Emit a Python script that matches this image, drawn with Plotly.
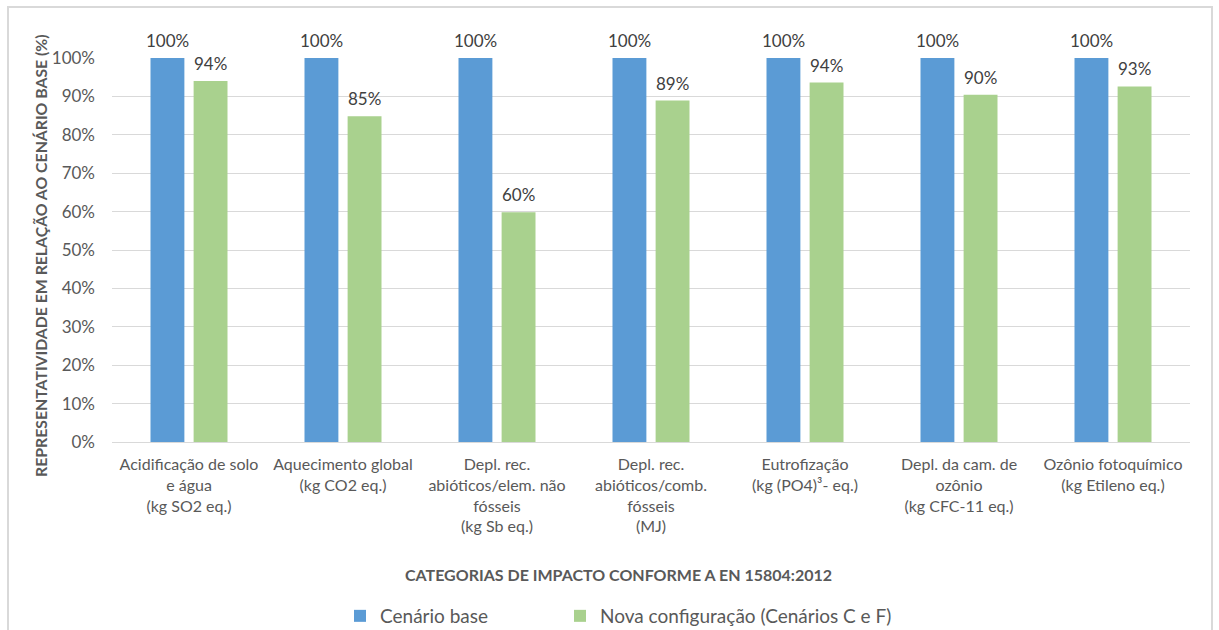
import plotly.graph_objects as go

categories = [
    "Acidificação de solo<br>e água<br>(kg SO2 eq.)",
    "Aquecimento global<br>(kg CO2 eq.)",
    "Depl. rec.<br>abióticos/elem. não<br>fósseis<br>(kg Sb eq.)",
    "Depl. rec.<br>abióticos/comb.<br>fósseis<br>(MJ)",
    "Eutrofização<br>(kg (PO4)³- eq.)",
    "Depl. da cam. de<br>ozônio<br>(kg CFC-11 eq.)",
    "Ozônio fotoquímico<br>(kg Etileno eq.)",
]
cenario_base = [1.00, 1.00, 1.00, 1.00, 1.00, 1.00, 1.00]
nova_configuracao = [0.940, 0.848, 0.598, 0.889, 0.936, 0.904, 0.926]

y_ticks = [i / 10 for i in range(11)]

FONT = "Lato"
TXT = "#595959"
LABEL = "#404040"

W, H = 1219, 630
ML, MR, MT, MB = 112, 29, 58, 188
pw = W - ML - MR
ph = H - MT - MB

BAR_W = 0.22
series = [
    ("Cenário base", cenario_base, "#5B9BD5", -0.25, "legend"),
    ("Nova configuração (Cenários C e F)", nova_configuracao, "#A9D18E", 0.03, "legend2"),
]

pos = list(range(len(categories)))

fig = go.Figure()
for name, vals, color, off, leg in series:
    fig.add_trace(go.Bar(
        name=name, x=pos, y=vals, width=BAR_W, offset=off,
        marker=dict(color=color, line=dict(width=0)),
        legend=leg,
    ))
    # value labels above each bar
    for p, v in zip(pos, vals):
        fig.add_annotation(x=p + off + BAR_W / 2, y=v, text=f"{v:.0%}",
                           xref="x", yref="y", showarrow=False,
                           xanchor="center", yanchor="bottom", yshift=5,
                           font=dict(family=FONT, size=17, color=LABEL))


def px_x(v):
    return (v - ML) / pw


def px_y(v):
    return (H - MB - v) / ph


# outer chart frame
fig.add_shape(type="rect", xref="paper", yref="paper",
              x0=px_x(8), x1=px_x(1212), y0=px_y(650), y1=px_y(7),
              line=dict(color="#D9D9D9", width=2), layer="below")

# axis titles
fig.add_annotation(text="<b>CATEGORIAS DE IMPACTO CONFORME A EN 15804:2012</b>",
                   xref="paper", yref="paper", x=px_x(618), y=px_y(574),
                   showarrow=False, xanchor="center", yanchor="middle",
                   font=dict(family=FONT, size=16, color=TXT))
fig.add_annotation(text="<b>REPRESENTATIVIDADE EM RELAÇÃO AO CENÁRIO BASE (%)</b>",
                   xref="paper", yref="paper", x=px_x(40), y=px_y(256),
                   textangle=-90, showarrow=False,
                   xanchor="center", yanchor="middle",
                   font=dict(family=FONT, size=15.8, color=TXT))

legend_style = dict(orientation="h", yanchor="middle", xanchor="left",
                    font=dict(family=FONT, size=19, color=TXT),
                    bgcolor="rgba(0,0,0,0)")

fig.update_layout(
    width=W, height=H,
    margin=dict(l=ML, r=MR, t=MT, b=MB, autoexpand=False),
    paper_bgcolor="white", plot_bgcolor="white",
    font=dict(family=FONT, size=16, color=TXT),
    barmode="overlay",
    legend=dict(x=px_x(340), y=px_y(616), **legend_style),
    legend2=dict(x=px_x(560), y=px_y(616), **legend_style),
    showlegend=True,
)
fig.update_xaxes(range=[-0.5, len(categories) - 0.5],
                 tickvals=pos, ticktext=categories,
                 showgrid=False, showline=False, zeroline=False, ticks="",
                 ticklabelstandoff=11,
                 tickfont=dict(family=FONT, size=16, color=TXT),
                 fixedrange=True)
fig.update_yaxes(range=[0, 1], tickvals=y_ticks, tickformat=".0%",
                 showgrid=True, gridcolor="#D9D9D9", gridwidth=1,
                 zeroline=True, zerolinecolor="#D9D9D9", zerolinewidth=1,
                 ticks="", ticklabelstandoff=16,
                 tickfont=dict(family=FONT, size=17, color=TXT),
                 fixedrange=True)

fig.write_html("out.html")
